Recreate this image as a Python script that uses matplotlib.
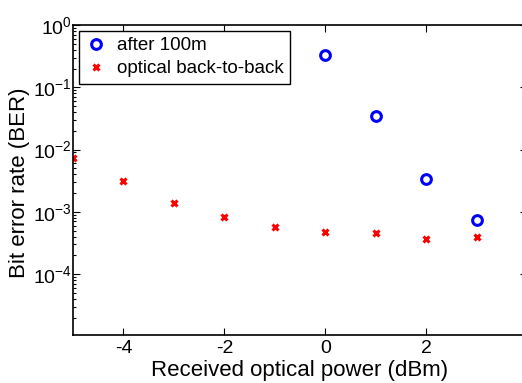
import numpy as np
import matplotlib
matplotlib.use('Agg')
import matplotlib.pyplot as plt
from matplotlib.ticker import LogLocator, FixedLocator, NullFormatter

plt.rcParams['font.family'] = ['Liberation Sans', 'DejaVu Sans']

# data
x_100m = [0, 1, 2, 3]
ber_100m = [0.325, 0.034, 0.0034, 7.3e-4]

x_b2b = [-5, -4, -3, -2, -1, 0, 1, 2, 3]
ber_b2b = [7.4e-3, 3.1e-3, 1.4e-3, 8.1e-4, 5.6e-4, 4.8e-4, 4.5e-4, 3.7e-4, 4.0e-4]

xticks = [-4, -2, 0, 2]
yticks = [1e-4, 1e-3, 1e-2, 1e-1, 1e0]

fig = plt.figure(figsize=(5.22, 3.83), dpi=100)
ax = fig.add_axes([73/522, 1 - 335/383, 454/522, 310/383])

ax.semilogy(x_100m, ber_100m, 'o', color='b', mfc='none', mew=2.2, ms=7,
            label='after 100m')
ax.semilogy(x_b2b, ber_b2b, 'x', color='r', mew=2.2, ms=4.5,
            label='optical back-to-back')

ax.set_xlim(-5, 4)
ax.set_ylim(1.05e-5, 1)
ax.set_xticks(xticks)
ax.set_xticklabels(['-4', '-2', '0', '2'])
ax.yaxis.set_major_locator(FixedLocator(yticks))
ax.yaxis.set_minor_locator(LogLocator(base=10, subs=np.arange(2, 10)))
ax.yaxis.set_minor_formatter(NullFormatter())
ax.tick_params(which='both', direction='in', top=True, right=True,
               labelsize=14, width=0.8)
ax.tick_params(axis='y', pad=1)
ax.tick_params(which='major', length=5)
ax.tick_params(which='minor', length=2.5)
for s in ax.spines.values():
    s.set_linewidth(1.2)

ax.set_xlabel('Received optical power (dBm)', fontsize=16, labelpad=2)
ax.set_ylabel('Bit error rate (BER)', fontsize=16, labelpad=0)
ax.yaxis.set_label_coords(-0.094, 0.49)

leg = ax.legend(loc='upper left', fontsize=13.5, fancybox=False,
                edgecolor='k', framealpha=1, handletextpad=0.5,
                borderpad=0.35, labelspacing=0.3, handlelength=1.2,
                borderaxespad=0.3)
leg.get_frame().set_linewidth(1.0)

fig.savefig('out.png', dpi=100)
